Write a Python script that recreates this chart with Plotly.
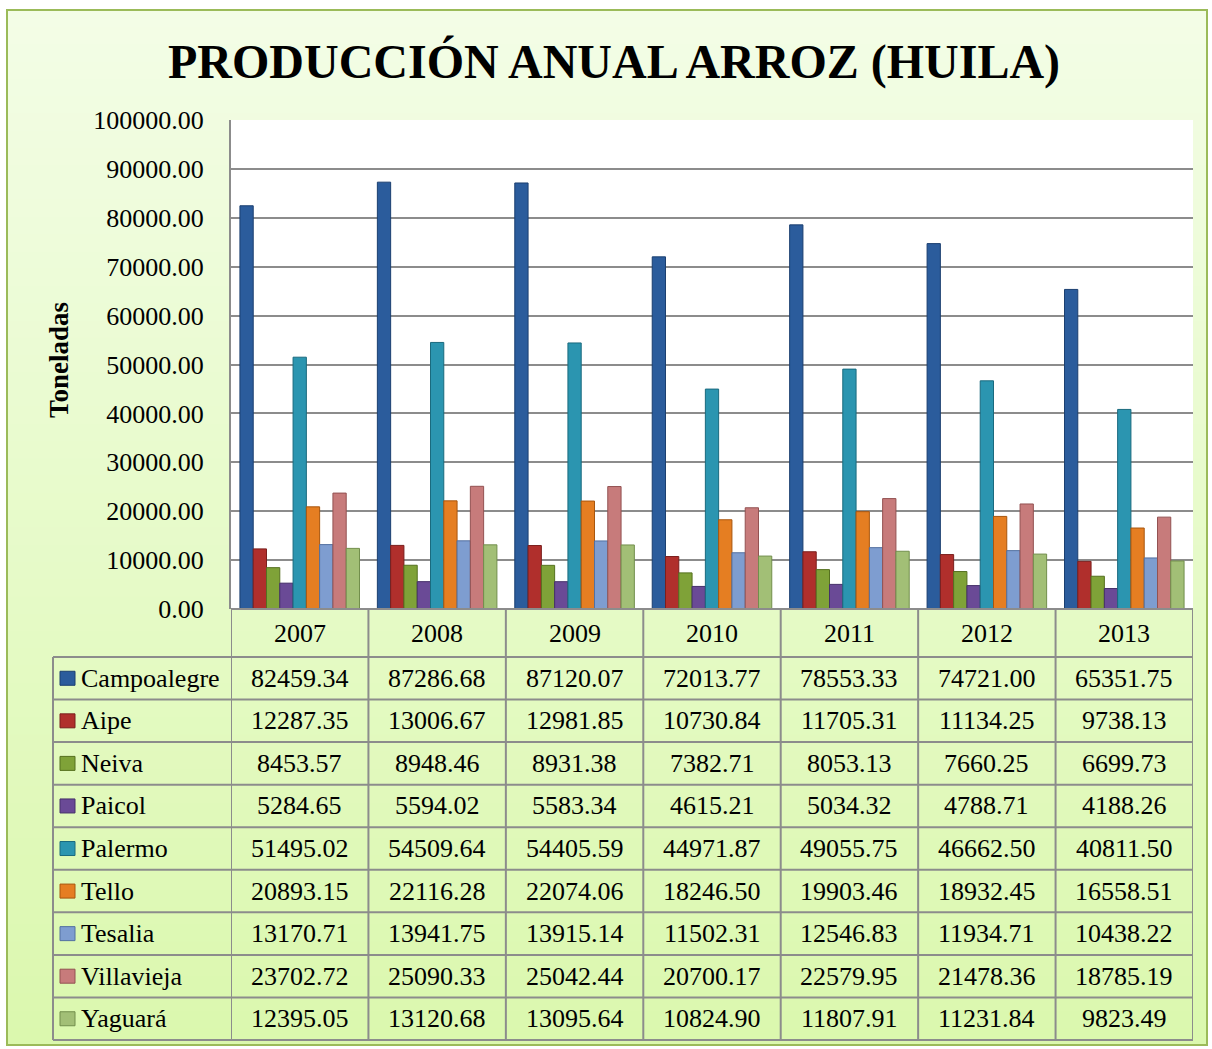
import plotly.graph_objects as go

years = ["2007", "2008", "2009", "2010", "2011", "2012", "2013"]
municipios = ["Campoalegre", "Aipe", "Neiva", "Paicol", "Palermo", "Tello", "Tesalia", "Villavieja", "Yaguará"]
campoalegre = [82459.34, 87286.68, 87120.07, 72013.77, 78553.33, 74721.00, 65351.75]
aipe = [12287.35, 13006.67, 12981.85, 10730.84, 11705.31, 11134.25, 9738.13]
neiva = [8453.57, 8948.46, 8931.38, 7382.71, 8053.13, 7660.25, 6699.73]
paicol = [5284.65, 5594.02, 5583.34, 4615.21, 5034.32, 4788.71, 4188.26]
palermo = [51495.02, 54509.64, 54405.59, 44971.87, 49055.75, 46662.50, 40811.50]
tello = [20893.15, 22116.28, 22074.06, 18246.50, 19903.46, 18932.45, 16558.51]
tesalia = [13170.71, 13941.75, 13915.14, 11502.31, 12546.83, 11934.71, 10438.22]
villavieja = [23702.72, 25090.33, 25042.44, 20700.17, 22579.95, 21478.36, 18785.19]
yaguara = [12395.05, 13120.68, 13095.64, 10824.90, 11807.91, 11231.84, 9823.49]
series = [campoalegre, aipe, neiva, paicol, palermo, tello, tesalia, villavieja, yaguara]
tick_vals = [0, 10000, 20000, 30000, 40000, 50000, 60000, 70000, 80000, 90000, 100000]

colors = ["#2B5C9C", "#B02F2C", "#7FA238", "#6A4A96", "#2B95B0", "#E57E22", "#7E9DD0", "#C77B7B", "#A2BF76"]
edges = ["#1B3F70", "#7A1F1D", "#55701F", "#46306A", "#1A6A7E", "#A8560E", "#5370A0", "#935252", "#728E4C"]

W, H = 1212, 1049
L, R, T, B = 231, 19, 120, 440
pw, ph = W - L - R, H - T - B
FONT = "Liberation Serif, Times New Roman, serif"


def px_x(x):
    return (x - L) / pw


def px_y(y):
    return (H - B - y) / ph


fig = go.Figure()
for name, vals, c, e in zip(municipios, series, colors, edges):
    fig.add_trace(go.Bar(x=years, y=vals, name=name,
                         marker=dict(color=c, line=dict(color=e, width=1))))

shapes = []
# gradient background
N = 60
top_c = (0xF3, 0xFD, 0xE6)
bot_c = (0xDB, 0xF8, 0xAE)
y0p, y1p = 10, 1045
for i in range(N):
    t = i / (N - 1)
    c = tuple(int(round(top_c[k] + (bot_c[k] - top_c[k]) * t)) for k in range(3))
    ya = y0p + (y1p - y0p) * i / N
    yb = y0p + (y1p - y0p) * (i + 1) / N + 1
    shapes.append(dict(type="rect", xref="paper", yref="paper", layer="below",
                       x0=px_x(7), x1=px_x(1207), y0=px_y(ya), y1=px_y(min(yb, y1p)),
                       fillcolor="rgb(%d,%d,%d)" % c, line=dict(width=0)))
# outer border
shapes.append(dict(type="rect", xref="paper", yref="paper", layer="above",
                   x0=px_x(7), x1=px_x(1207), y0=px_y(10), y1=px_y(1045),
                   line=dict(color="#9BBB59", width=2)))
# plot area white background
shapes.append(dict(type="rect", xref="paper", yref="paper", layer="below",
                   x0=0, x1=1, y0=0, y1=1, fillcolor="white", line=dict(width=0)))

grid_c = "#8C8C8C"
row_tops = [657 + 42.56 * i for i in range(10)]
shapes.append(dict(type="line", xref="paper", yref="paper", x0=0, x1=1,
                   y0=px_y(609), y1=px_y(609), line=dict(color=grid_c, width=2)))
for yy in row_tops:
    shapes.append(dict(type="line", xref="paper", yref="paper", x0=px_x(53), x1=1,
                       y0=px_y(yy), y1=px_y(yy), line=dict(color=grid_c, width=2)))
for i in range(len(years) + 1):
    shapes.append(dict(type="line", xref="x", yref="paper", x0=i - 0.5, x1=i - 0.5,
                       y0=px_y(609), y1=px_y(row_tops[-1]), line=dict(color=grid_c, width=2)))
shapes.append(dict(type="line", xref="paper", yref="paper", x0=px_x(53), x1=px_x(53),
                   y0=px_y(row_tops[0]), y1=px_y(row_tops[-1]), line=dict(color=grid_c, width=2)))

annotations = []
annotations.append(dict(text="<b>PRODUCCIÓN ANUAL ARROZ (HUILA)</b>", xref="paper", yref="paper",
                        x=px_x(614), y=px_y(62), showarrow=False,
                        font=dict(family=FONT, size=48, color="black"),
                        xanchor="center", yanchor="middle"))
annotations.append(dict(text="<b>Toneladas</b>", xref="paper", yref="paper",
                        x=px_x(59), y=px_y(360), showarrow=False, textangle=-90,
                        font=dict(family=FONT, size=27, color="black"),
                        xanchor="center", yanchor="middle"))
for j, yr in enumerate(years):
    annotations.append(dict(text=yr, xref="x", yref="paper", x=j, y=px_y(633),
                            showarrow=False, font=dict(family=FONT, size=26, color="black"),
                            xanchor="center", yanchor="middle"))
for i, (name, vals, c) in enumerate(zip(municipios, series, colors)):
    yc = (row_tops[i] + row_tops[i + 1]) / 2
    annotations.append(dict(text=name, xref="paper", yref="paper", x=px_x(79), y=px_y(yc),
                            showarrow=False, font=dict(family=FONT, size=26, color="black"),
                            xanchor="left", yanchor="middle"))
    shapes.append(dict(type="rect", xref="paper", yref="paper",
                       x0=px_x(60), x1=px_x(75), y0=px_y(yc - 7), y1=px_y(yc + 7),
                       fillcolor=c, line=dict(color=edges[i], width=1)))
    for j, v in enumerate(vals):
        annotations.append(dict(text="%.2f" % v, xref="x", yref="paper", x=j, y=px_y(yc),
                                showarrow=False, font=dict(family=FONT, size=26, color="black"),
                                xanchor="center", yanchor="middle"))

fig.update_layout(
    width=W, height=H,
    margin=dict(l=L, r=R, t=T, b=B),
    paper_bgcolor="white",
    plot_bgcolor="rgba(0,0,0,0)",
    barmode="group",
    bargap=0.13,
    bargroupgap=0,
    showlegend=False,
    shapes=shapes,
    annotations=annotations,
    font=dict(family=FONT, color="black"),
)
fig.update_xaxes(type="category", showticklabels=False, showgrid=False, zeroline=False,
                 showline=False, range=[-0.5, len(years) - 0.5])
fig.update_yaxes(range=[0, 100000], tickvals=tick_vals,
                 ticktext=["%.2f" % v for v in tick_vals],
                 showgrid=True, gridcolor=grid_c, gridwidth=2,
                 showline=True, linecolor=grid_c, linewidth=2,
                 zeroline=False, ticks="", ticklabelstandoff=20,
                 tickfont=dict(family=FONT, size=26, color="black"))

fig.write_html("out.html", config={"displayModeBar": False},
               post_script="document.body.style.margin='0';")
